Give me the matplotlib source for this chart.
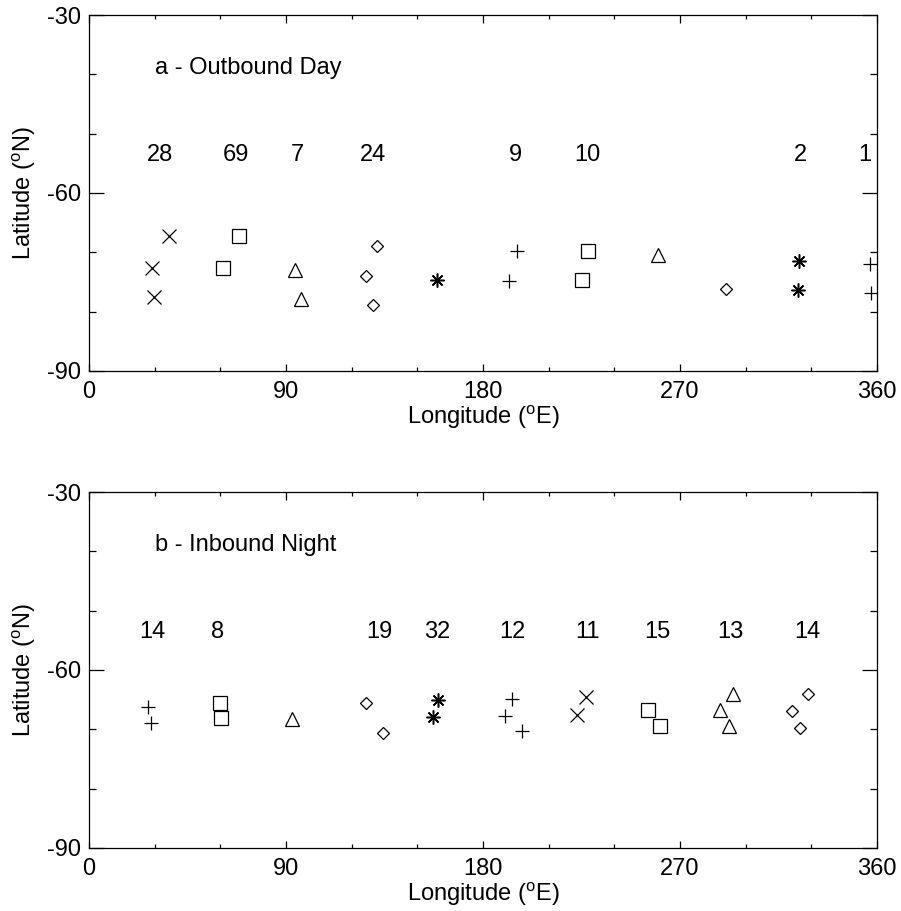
import matplotlib
matplotlib.use('Agg')
import matplotlib.pyplot as plt
from matplotlib.ticker import MultipleLocator

plt.rcParams['font.family'] = ['Liberation Sans', 'DejaVu Sans']
plt.rcParams['mathtext.fontset'] = 'custom'
plt.rcParams['mathtext.rm'] = 'Liberation Sans'
plt.rcParams['axes.unicode_minus'] = False

# a - Outbound Day: longitude, latitude, symbol
day_lon = [36.7, 28.6, 29.7, 68.5, 61.4, 94.1, 96.9, 131.4, 126.4, 129.6,
           159.1, 195.7, 192.0, 227.8, 225.1, 259.8, 291.0, 324.3, 324.0,
           356.8, 357.1]
day_lat = [-67.3, -72.7, -77.5, -67.3, -72.6, -73.0, -77.9, -68.9, -74.0, -78.9,
           -74.7, -69.7, -74.8, -69.7, -74.7, -70.5, -76.1, -71.4, -76.4,
           -71.9, -76.9]
day_sym = ['x', 'x', 'x', 's', 's', '^', '^', 'D', 'D', 'D',
           '*', '+', '+', 's', 's', '^', 'D', '*', '*',
           '+', '+']
day_counts = ['28', '69', '7', '24', '9', '10', '2', '1']
day_count_lon = [32.4, 67.2, 95.0, 129.7, 194.6, 227.5, 324.8, 354.5]

# b - Inbound Night
night_lon = [26.8, 28.3, 59.8, 60.3, 92.9, 126.4, 134.4, 159.6, 157.3,
             193.4, 190.0, 197.7, 227.0, 222.8, 255.2, 260.8,
             294.3, 288.3, 292.5, 328.6, 321.0, 324.8]
night_lat = [-66.3, -69.0, -65.5, -68.1, -68.3, -65.5, -70.6, -65.1, -67.9,
             -64.9, -67.7, -70.2, -64.6, -67.6, -66.7, -69.4,
             -64.0, -66.7, -69.4, -64.1, -66.9, -69.7]
night_sym = ['+', '+', 's', 's', '^', 'D', 'D', '*', '*',
             '+', '+', '+', 'x', 'x', 's', 's',
             '^', '^', '^', 'D', 'D', 'D']
night_counts = ['14', '8', '19', '32', '12', '11', '15', '13', '14']
night_count_lon = [28.8, 58.5, 132.5, 159.0, 193.2, 227.5, 259.5, 292.9, 328.4]

# IDL-ish symbol shapes
sym_style = {
    'x': dict(marker='x', ms=9.5, mew=0.9),
    's': dict(marker='s', ms=9.5, mew=0.9),
    '^': dict(marker='^', ms=10.5, mew=0.9),
    'D': dict(marker='D', ms=6.3, mew=0.9),
    '+': dict(marker='+', ms=10, mew=0.9),
    '*': dict(marker=(8, 2, 0), ms=10, mew=1.1),
}

FS = 17

fig = plt.figure(figsize=(9.01, 9.11), dpi=100)
ax1 = fig.add_axes([0.0988, 0.5928, 0.8746, 0.3907])
ax2 = fig.add_axes([0.0988, 0.0692, 0.8746, 0.3907])


def draw_panel(ax, lon, lat, sym, counts, count_lon, title):
    for x, y, s in zip(lon, lat, sym):
        st = sym_style[s]
        ax.plot([x], [y], linestyle='none', marker=st['marker'], ms=st['ms'],
                mfc='none', mec='black', mew=st['mew'])
        if s == '*':
            ax.plot([x], [y], linestyle='none', marker='o', ms=2.5, color='black')
    for c, x in zip(counts, count_lon):
        ax.text(x, -53.6, c, ha='center', va='center', fontsize=FS)
    ax.text(30.0, -38.9, title, ha='left', va='center', fontsize=FS)

    ax.set_xlim(0, 360)
    ax.set_ylim(-90, -30)
    ax.xaxis.set_major_locator(MultipleLocator(90))
    ax.xaxis.set_minor_locator(MultipleLocator(30))
    ax.yaxis.set_major_locator(MultipleLocator(30))
    ax.yaxis.set_minor_locator(MultipleLocator(10))
    ax.tick_params(which='both', direction='in', top=True, right=True,
                   labelsize=FS, width=0.9)
    ax.tick_params(axis='x', which='major', length=5.4, pad=7)
    ax.tick_params(axis='x', which='minor', length=2.9)
    ax.tick_params(axis='y', which='major', length=10.8, pad=6)
    ax.tick_params(axis='y', which='minor', length=5.2)
    for sp in ax.spines.values():
        sp.set_linewidth(0.9)
    ax.set_xlabel(r'Longitude ($^{\rm o}$E)', fontsize=FS, labelpad=0)
    ax.set_ylabel(r'Latitude ($^{\rm o}$N)', fontsize=FS, labelpad=6)


draw_panel(ax1, day_lon, day_lat, day_sym, day_counts, day_count_lon,
           'a - Outbound Day')
draw_panel(ax2, night_lon, night_lat, night_sym, night_counts, night_count_lon,
           'b - Inbound Night')

fig.savefig('out.png', dpi=100)
